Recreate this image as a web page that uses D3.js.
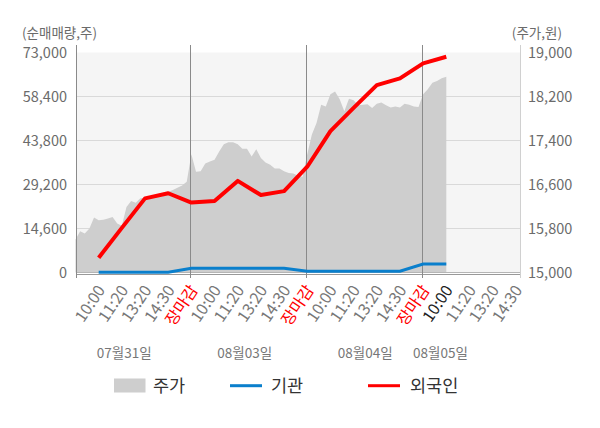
<!DOCTYPE html>
<html>
<head>
<meta charset="utf-8">
<script src="https://cdn.jsdelivr.net/npm/d3@7"></script>
<style>
  html, body { margin: 0; padding: 0; background: #fff; }
  svg { display: block; font-family: "Noto Sans CJK KR", "Noto Sans", sans-serif; }
</style>
</head>
<body>
<svg id="chart" width="600" height="428"></svg>
<script>
// ---- data ----
const timeLabels = ["10:00","11:20","13:20","14:30","장마감",
                    "10:00","11:20","13:20","14:30","장마감",
                    "10:00","11:20","13:20","14:30","장마감",
                    "10:00","11:20","13:20","14:30"];
const dayLabels = ["07월31일","08월03일","08월04일","08월05일"];
const leftTicks = [0, 14600, 29200, 43800, 58400, 73000];
const rightTicks = [15000, 15800, 16600, 17400, 18200, 19000];
// net buying at each time tick (tick index 1..16)
const foreignNet = [4900, 14800, 24600, 26300, 23200, 23700, 30400, 25700, 27000,
                    35100, 46900, 54600, 62200, 64400, 69400, 71600];
const institutionNet = [100, 100, 100, 100, 1400, 1400, 1400, 1400, 1400,
                        400, 400, 400, 400, 400, 2800, 2800];
// intraday share price, sampled every 0.2 tick from tick 0 to 16
const priceStep = 0.2;
const price = [15600,15750,15710,15800,16000,15950,15960,15980,16010,15890,
               15850,16190,16300,16270,16350,16360,16380,16400,16420,16450,
               16470,16500,16540,16580,16650,
               17150,16830,16840,16980,17020,17050,17200,17330,17370,17370,
               17330,17250,17250,17110,17240,17080,17000,16960,16890,16890,
               16840,16810,16800,16760,16740,
               17150,17510,17720,18050,18020,18240,18290,18150,17930,18160,
               18130,18040,18050,18060,17990,18070,18090,18040,18000,18020,
               18000,18070,18050,18020,18010,
               18240,18330,18450,18480,18530,18560];

// ---- layout ----
const svg = d3.select("#chart");
const L = 76, R = 520, T = 52.5, B = 272.5;
const x = d3.scaleLinear().domain([0, 19.18]).range([75.5, 520]);
const yL = d3.scaleLinear().domain([0, 73000]).range([B, T]);
const yR = d3.scaleLinear().domain([15000, 19000]).range([B, T]);

svg.append("rect").attr("width", 600).attr("height", 428).attr("fill", "#fff");
svg.append("rect").attr("x", L).attr("y", T).attr("width", R - L).attr("height", B - T)
  .attr("fill", "#f5f5f5");

// gridlines
svg.append("g").selectAll("line").data(leftTicks.slice(1, 5)).join("line")
  .attr("x1", L).attr("x2", R).attr("y1", d => yL(d)).attr("y2", d => yL(d))
  .attr("stroke", "#d9d9d9").attr("stroke-width", 1);

// price area
const area = d3.area()
  .x((d, i) => x(i * priceStep))
  .y0(yR(15000))
  .y1(d => yR(d));
svg.append("path").datum(price).attr("d", area).attr("fill", "#cecece");

// zero line and bottom axis line
svg.append("line").attr("x1", L).attr("x2", R).attr("y1", B).attr("y2", B)
  .attr("stroke", "#b5b5b5");
svg.append("line").attr("x1", L).attr("x2", R).attr("y1", 274.5).attr("y2", 274.5)
  .attr("stroke", "#999");

// day separators
svg.append("g").selectAll("line").data([5, 10, 15]).join("line")
  .attr("x1", d => Math.round(x(d)) - 0.5).attr("x2", d => Math.round(x(d)) - 0.5)
  .attr("y1", 45).attr("y2", 278)
  .attr("stroke", "#8a8a8a");
svg.append("line").attr("x1", L + 0.5).attr("x2", L + 0.5).attr("y1", 45).attr("y2", 278)
  .attr("stroke", "#8a8a8a");
svg.append("line").attr("x1", R + 0.5).attr("x2", R + 0.5).attr("y1", 45).attr("y2", 278)
  .attr("stroke", "#d0d0d0");

// lines
const lineGen = d3.line().x((d, i) => x(i + 1)).y(d => yL(d));
svg.append("path").datum(institutionNet).attr("d", lineGen)
  .attr("fill", "none").attr("stroke", "#0a7fcc").attr("stroke-width", 3);
svg.append("path").datum(foreignNet).attr("d", lineGen)
  .attr("fill", "none").attr("stroke", "#ff0000").attr("stroke-width", 4)
  .attr("stroke-linejoin", "round");

// left axis
const gL = svg.append("g").attr("transform", `translate(${L - 9},0)`)
  .call(d3.axisLeft(yL).tickValues(leftTicks).tickSize(0).tickFormat(d3.format(",")));
gL.select(".domain").remove();
gL.selectAll("text").attr("x", 0).attr("dy", "0.35em")
  .attr("fill", "#6b6b6b").style("font-size", "14.5px")
  .style("font-family", '"Noto Sans CJK KR", sans-serif');

// right axis
const gR = svg.append("g").attr("transform", `translate(${R + 8},0)`)
  .call(d3.axisRight(yR).tickValues(rightTicks).tickSize(0).tickFormat(d3.format(",")));
gR.select(".domain").remove();
gR.selectAll("text").attr("x", 0).attr("dy", "0.35em")
  .attr("fill", "#6b6b6b").style("font-size", "14.5px")
  .style("font-family", '"Noto Sans CJK KR", sans-serif');

// unit titles
svg.append("text").attr("x", 22).attr("y", 33).attr("dy", "0.35em")
  .attr("fill", "#6b6b6b").style("font-size", "13.5px").text("(순매매량,주)");
svg.append("text").attr("x", 562).attr("y", 33).attr("dy", "0.35em")
  .attr("text-anchor", "end")
  .attr("fill", "#6b6b6b").style("font-size", "13.5px").text("(주가,원)");

// x axis tick labels
const gX = svg.append("g").attr("transform", "translate(0,276)")
  .call(d3.axisBottom(x).tickValues(d3.range(1, 20)).tickSize(0)
    .tickFormat(d => timeLabels[d - 1]));
gX.select(".domain").remove();
gX.selectAll("text")
  .attr("x", 0).attr("y", 0).attr("dy", "0.35em")
  .attr("text-anchor", "end")
  .attr("transform", "translate(2,11) rotate(-56)")
  .style("font-size", "16px")
  .style("font-family", '"Noto Sans CJK KR", sans-serif')
  .attr("fill", d => timeLabels[d - 1] === "장마감" ? "#ff0000" : (d === 16 ? "#222" : "#777"));

// day labels
const dayPos = [2.1, 7.3, 12.5, 15.75];
svg.append("g").selectAll("text").data(dayLabels).join("text")
  .attr("x", (d, i) => x(dayPos[i])).attr("y", 353).attr("dy", "0.35em")
  .attr("text-anchor", "middle").attr("fill", "#777").style("font-size", "13.5px")
  .text(d => d);

// legend
const lg = svg.append("g");
lg.append("rect").attr("x", 114).attr("y", 378.5).attr("width", 31.5).attr("height", 14)
  .attr("fill", "#cecece");
lg.append("text").attr("x", 153).attr("y", 386).attr("dy", "0.35em")
  .attr("fill", "#333").style("font-size", "17.5px").text("주가");
lg.append("line").attr("x1", 230).attr("x2", 262).attr("y1", 385.7).attr("y2", 385.7)
  .attr("stroke", "#0a7fcc").attr("stroke-width", 3);
lg.append("text").attr("x", 271).attr("y", 386).attr("dy", "0.35em")
  .attr("fill", "#333").style("font-size", "17.5px").text("기관");
lg.append("line").attr("x1", 368).attr("x2", 400).attr("y1", 385.7).attr("y2", 385.7)
  .attr("stroke", "#ff0000").attr("stroke-width", 3);
lg.append("text").attr("x", 410).attr("y", 386).attr("dy", "0.35em")
  .attr("fill", "#333").style("font-size", "17.5px").text("외국인");
</script>
</body>
</html>
